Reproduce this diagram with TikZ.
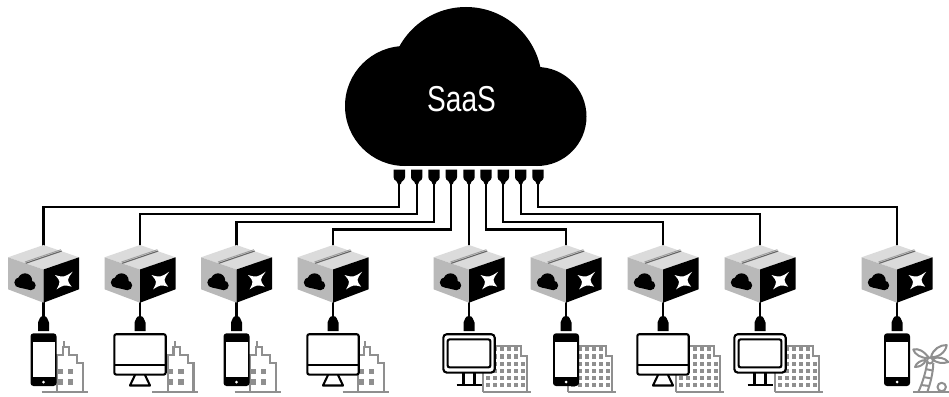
\documentclass[tikz,border=0pt]{standalone}
\usepackage{fontspec}
\setmainfont{Liberation Sans}
\definecolor{bgray}{HTML}{8F8F8F}
\tikzset{
  wire/.style={line width=2.3pt,black},
  bld/.style={bgray,line width=2.2pt,line join=miter},
  dev/.style={black,fill=white,line width=2.1pt,rounded corners=2pt},
  win/.style={fill=bgray,draw=none},
}
\newcommand{\cargo}[1]{\begin{scope}[xshift=#1pt]
  \fill[gray!28] (0,245)--(35.5,257.3)--(0,269.5)--(-35.5,257.3)--cycle;
  \fill[gray!55] (-35.5,257.3)--(0,269.5)--(0,302.7)--(-35.5,289.3)--cycle;
  \fill[black] (35.5,257.3)--(0,269.5)--(0,302.7)--(35.5,289.3)--cycle;
  \draw[gray!75,line width=.9pt] (-18.6,262) -- (17.4,249.7);
  \draw[black!60,line width=1.1pt] (-17.8,263.3) -- (18.2,251);
  \fill[black] (-18.5,280.5) circle (7.2);
  \fill[black] (-24,282.5) circle (5.2);
  \fill[black] (-12.6,285.4) circle (4.8);
  \fill[black] (-24,287.6)--(-12.6,290.2)--(-12,282)--(-22,277)--cycle;
  \fill[white] (11.5,275) .. controls (20.3,277.5) .. (29.2,271.7)
     .. controls (23.1,280) .. (28.2,286.7) .. controls (20.5,284.7) .. (13.2,289.3)
     .. controls (17.2,281.5) .. cycle;
\end{scope}}
\newcommand{\plug}[1]{\begin{scope}[xshift=#1pt]
  \fill[black] (-5.5,331) -- (-5.5,322.5) .. controls (-5.5,320.5) and (-4,320.5) .. (-3.8,318.5)
    .. controls (-3.4,315.2) and (3.4,315.2) .. (3.8,318.5) .. controls (4,320.5) and (5.5,320.5) .. (5.5,322.5)
    -- (5.5,331) -- cycle;
\end{scope}}
\newcommand{\phone}[1]{\begin{scope}[xshift=#1pt]
  \fill[black,rounded corners=3pt] (-13,333.3) rectangle (13,386);
  \fill[white] (-11,342) rectangle (11,376.5);
  \fill[white] (0,382) circle (1.5);
\end{scope}}
\newcommand{\monitor}[1]{\begin{scope}[xshift=#1pt]
  \draw[black,fill=white,line width=2.1pt,line join=round] (-5,375) -- (-10,385.5) -- (10,385.5) -- (5,375);
  \draw[dev] (-25.7,334.2) rectangle (25.7,374.6);
  \draw[black,line width=2.1pt] (-25.7,365) -- (25.7,365);
\end{scope}}
\newcommand{\dualmon}[1]{\begin{scope}[xshift=#1pt]
  \draw[black,fill=white,line width=2.1pt] (-5.5,372) -- (-5.5,385) (5.5,372) -- (5.5,385) (-12.5,385) -- (12.5,385);
  \draw[dev,rounded corners=3.5pt] (-25.7,334.2) rectangle (25.7,372.6);
  \draw[black,line width=2.1pt,rounded corners=2pt] (-21.4,339.4) rectangle (21.4,367.4);
\end{scope}}
\newcommand{\smallbld}[1]{\begin{scope}[xshift=#1pt]
  \draw[bld] (-1.8,392)--(44.2,392);
  \draw[bld] (13.8,392)--(13.8,355.2)--(19.2,355.2)--(19.2,347.2)--(20.8,347.2)--(20.8,341)--(20.8,347.2)--(25.8,347.2)
     --(25.8,355.2)--(33.5,355.2)--(33.5,362.6)--(39.2,362.6)--(39.2,392);
  \foreach \x in {13.8,24.2} \foreach \y in {368.5,379}
    \fill[win] (\x,\y) rectangle ++(5.4,5.6);
\end{scope}}
\newcommand{\bigbld}[1]{\begin{scope}[xshift=#1pt]
  \draw[bld] (14.3,392)--(62,392);
  \draw[bld] (14.3,392)--(14.3,345.7)--(52,345.7)--(52,356.2)--(57.7,356.2)--(57.7,392);
  \foreach \y in {349.3,356.4} \foreach \x in {26,33,40,47}
    \fill[win] (\x-2.1,\y-2.1) rectangle ++(4.2,4.2);
  \foreach \y in {363.6,370.8,378,385.2} \foreach \x in {19,26,33,40,47,54}
    \fill[win] (\x-2.1,\y-2.1) rectangle ++(4.2,4.2);
\end{scope}}
\begin{document}
\begin{tikzpicture}[x=1pt,y=-1pt]
\useasboundingbox (0,0) rectangle (949,396);
% cloud
\fill[black] (405,106) circle (60);
\fill[black] (466,83) circle (76);
\fill[black] (537,116.5) circle (49.5);
\fill[black] (405,110) rectangle (537,166);
\node[text=white,font=\fontsize{36}{36}\selectfont,xscale=.78,inner sep=0pt] (saas) at (461.5,99) {SaaS};
% ports
\foreach \i/\x in {1/399.3,2/416.7,3/434,4/451.3,5/469,6/486,7/503.3,8/520.7,9/538}{
  \fill[black] (\x-5.7,169.5) -- (\x+5.7,169.5) -- (\x+5.7,177) .. controls (\x+5.7,181) and (\x+2,180) .. (\x+1.5,184)
     -- (\x-1.5,184) .. controls (\x-2,180) and (\x-5.7,181) .. (\x-5.7,177) -- cycle;
  \coordinate (p\i) at (\x,183);
}
% boxes, plugs and devices
\foreach \i/\c in {1/43.5,2/140,3/236.5,4/333,5/469,6/566,7/663,8/760,9/897}{
  \coordinate (bt\i) at (\c,245.5);
  \coordinate (bb\i) at (\c,302);
  \coordinate (pl\i) at (\c,318);
}
\foreach \i/\h in {1/23.7,2/31,3/39,4/46.5,6/46.5,7/39,8/31,9/23.7}
  \draw[wire] (p\i) -- ++(0,\h) -| (bt\i);
\draw[wire] (p5) -- (bt5);
\foreach \i in {1,...,9} \draw[wire] (bb\i) -- (pl\i);
\foreach \c in {43.5,140,236.5,333,469,566,663,760,897}{\cargo{\c}\plug{\c}}
% sites
\smallbld{43.5}\smallbld{154.2}\smallbld{236.5}\smallbld{344.5}
\bigbld{469}\bigbld{554}\bigbld{662}\bigbld{761}
% palm
\begin{scope}[bgray,line width=2pt,line join=round]
  \draw (913,392)--(949,392);
  \draw (941.7,387) circle (4.2);
  \draw (927.3,361.5) .. controls (926,372) and (922,384) .. (918.3,392);
  \draw (933.3,363) .. controls (933,374) and (930,384) .. (927.3,392);
  \draw (925.5,369)--(932.5,370.5) (923.3,377)--(931.5,378.5) (921,385)--(929.5,386);
  \draw (929,358) .. controls (924,351) and (918,348) .. (913.3,349.5) .. controls (914,354) and (922,359) .. (929,358);
  \draw (931,357) .. controls (933,349) and (940,345) .. (946.7,345) .. controls (946,352) and (938,358) .. (931,357);
  \draw (932,359) .. controls (938,356) and (945,358) .. (948.3,362) .. controls (943,364) and (936,363) .. (932,359);
  \draw (926,360) .. controls (921,360) and (916,363) .. (915,367) .. controls (919,367) and (924,365) .. (926,360);
  \draw (930,360.5) circle (3);
\end{scope}
\phone{43.5}\monitor{140}\phone{236.5}\monitor{333}
\dualmon{469}\phone{566}\monitor{663}\dualmon{760}\phone{897}
\end{tikzpicture}
\end{document}
